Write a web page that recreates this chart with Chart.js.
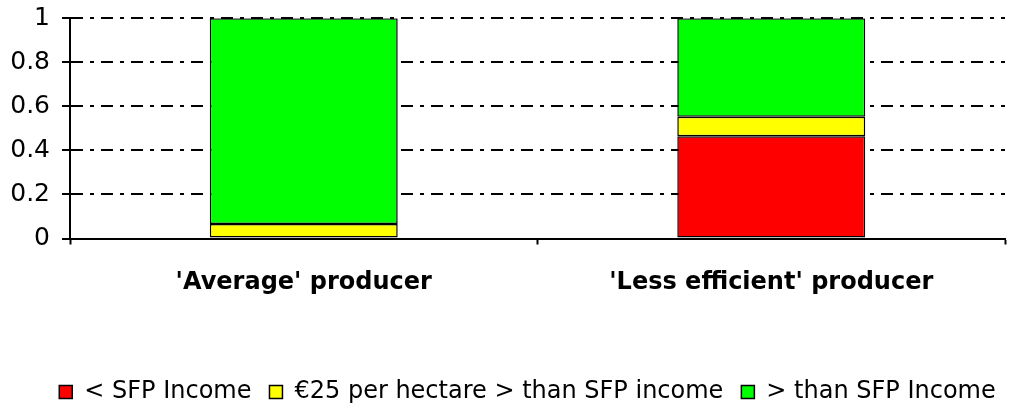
<!DOCTYPE html>
<html>
<head>
<meta charset="utf-8">
<script src="https://cdn.jsdelivr.net/npm/chart.js@4/dist/chart.umd.min.js"></script>
<style>
  body { margin: 0; background: #fff; }
  #wrap { width: 1018px; height: 406px; }
</style>
</head>
<body>
<div id="wrap"><canvas id="myChart" width="1018" height="406"></canvas></div>
<script>
// data
const categories = ["'Average' producer", "'Less efficient' producer"];
const belowSfp = [0, 0.464];
const within25 = [0.066, 0.089];
const aboveSfp = [0.934, 0.447];
const yTicks = [0, 0.2, 0.4, 0.6, 0.8, 1];

// the legend sits a bit right of the middle in the original
const shiftLegend = {
  id: "shiftLegend",
  afterLayout: (chart) => { chart.legend.left += 37; },
};

new Chart("myChart", {
  type: "bar",
  plugins: [shiftLegend],
  data: {
    labels: categories,
    datasets: [
      { label: "< SFP Income", data: belowSfp, backgroundColor: "#ff0000" },
      { label: "€25 per hectare > than SFP income", data: within25, backgroundColor: "#ffff00" },
      { label: "> than SFP Income", data: aboveSfp, backgroundColor: "#00ff00" },
    ].map((d) => Object.assign(d, {
      borderColor: "#000",
      borderWidth: 1.5,
      borderSkipped: false,
      categoryPercentage: 1,
      barPercentage: 0.402,
      yAxisID: "y",
    })),
  },
  options: {
    responsive: false,
    animation: false,
    layout: { padding: { left: 0, right: 0, top: 18, bottom: -8 } },
    plugins: {
      tooltip: { enabled: false },
      legend: {
        position: "bottom",
        labels: {
          color: "#000",
          font: { family: "DejaVu Sans", size: 24 },
          boxWidth: 13,
          boxHeight: 13,
          padding: 18,
          generateLabels: (chart) =>
            chart.data.datasets.map((d, i) => ({
              text: d.label,
              fillStyle: d.backgroundColor,
              strokeStyle: "#000",
              lineWidth: 1.5,
              datasetIndex: i,
            })),
        },
      },
    },
    scales: {
      x: {
        stacked: true,
        afterFit: (s) => { s.height = 123.5; },
        grid: { offset: true, drawOnChartArea: false, tickLength: 6, tickColor: "#000", tickWidth: 2 },
        border: { color: "#000", width: 2 },
        ticks: {
          color: "#000",
          padding: 24,
          font: { family: "DejaVu Sans", size: 24, weight: "bold" },
        },
      },
      y: {
        stacked: true,
        min: 0,
        max: 1,
        afterFit: (s) => { s.width = 70; },
        afterBuildTicks: (s) => { s.ticks = yTicks.map((v) => ({ value: v })); },
        grid: {
          color: "#000",
          lineWidth: 2,
          tickLength: 8,
          tickColor: "#000",
          tickWidth: 2,
          tickBorderDash: [],
        },
        border: { color: "#000", width: 2, dash: [12, 7, 4, 7] },
        ticks: {
          color: "#000",
          padding: 12,
          font: { family: "DejaVu Sans", size: 25, lineHeight: 0.5 },
          callback: (v) => String(v),
        },
      },
      yRight: {
        position: "right",
        afterFit: (s) => { s.width = 13; },
        grid: { display: false },
        border: { display: false },
        ticks: { display: false },
      },
    },
  },
});
</script>
</body>
</html>
